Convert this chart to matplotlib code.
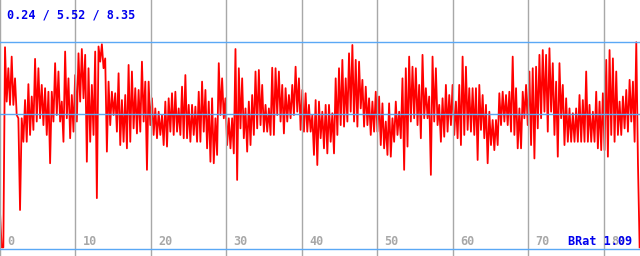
import numpy as np
import matplotlib
matplotlib.use("Agg")
import matplotlib.pyplot as plt
import matplotlib.transforms as mtransforms

# ---------------- data ----------------
stat_min, stat_mean, stat_max = 0.24, 5.52, 8.35
brat = 1.09
x_ticks = [0, 10, 20, 30, 40, 50, 60, 70, 80]
x_end = 84.77

start_vals = [1.64, 0.24, 0.24]
# high / low pairs, left to right
hi_lo = [
    # 0 .. 12
    (8.16, 6.01), (7.33, 5.88), (7.79, 5.88), (6.93, 5.48), (5.35, 1.72),
    (5.35, 4.42), (6.07, 4.42), (6.70, 4.69), (6.21, 4.89), (7.70, 5.22),
    (7.33, 5.35), (6.67, 5.08), (6.54, 4.69), (6.40, 3.57), (6.40, 5.22),
    (7.53, 5.48), (7.20, 5.22), (6.01, 4.42), (7.99, 5.35), (6.93, 4.56),
    (6.27, 4.82), (7.06, 5.22), (7.92, 6.01), (8.09, 6.14), (7.86, 3.63),
    (7.33, 4.42), (6.67, 4.69),
    # 12 .. 24
    (7.99, 2.19), (8.19, 7.59), (8.28, 7.33), (7.72, 4.03), (6.80, 5.08),
    (6.40, 5.48), (6.34, 4.82), (7.13, 4.29), (6.07, 4.42), (6.27, 4.16),
    (7.46, 4.42), (7.20, 4.95), (6.54, 4.75), (6.47, 4.82), (7.59, 5.22),
    (6.80, 3.31), (6.80, 5.08), (6.14, 4.69), (5.74, 4.56), (5.61, 4.69),
    (5.48, 4.29), (6.01, 4.23), (6.14, 4.82), (6.34, 4.69), (6.40, 4.82),
    (5.74, 4.69), (6.60, 4.56),
    # 24 .. 36
    (7.06, 4.56), (5.88, 4.42), (5.88, 4.69), (5.81, 4.42), (6.40, 4.42),
    (6.80, 4.82), (6.47, 4.16), (6.01, 3.63), (6.14, 3.57), (5.35, 3.90),
    (7.53, 5.48), (6.93, 5.35), (6.14, 4.29), (5.35, 4.16), (5.35, 3.96),
    (8.09, 2.91), (7.33, 4.95), (6.93, 4.56), (5.74, 4.03), (6.01, 4.29),
    (6.27, 4.69), (7.20, 4.95), (7.26, 5.08), (6.67, 4.82), (5.88, 4.82),
    (5.74, 4.69), (7.35, 4.69),
    # 36 .. 48
    (7.33, 5.48), (7.20, 5.22), (6.67, 4.75), (6.54, 5.22), (6.27, 5.35),
    (6.67, 5.48), (7.39, 5.61), (6.93, 4.89), (6.47, 4.82), (6.34, 4.82),
    (5.88, 4.82), (5.48, 3.90), (6.07, 3.50), (6.01, 4.56), (5.61, 4.16),
    (5.88, 3.96), (5.88, 4.42), (5.55, 3.96), (6.93, 4.69), (7.33, 5.08),
    (7.66, 5.02), (6.93, 5.22), (7.92, 5.61), (8.25, 5.22), (7.66, 5.02),
    (7.59, 5.74), (6.87, 5.02),
    # 48 .. 60
    (6.60, 5.08), (6.14, 4.69), (6.01, 4.82), (6.40, 4.82), (6.21, 4.29),
    (5.94, 4.16), (5.22, 3.90), (5.94, 3.83), (5.35, 4.42), (6.01, 4.69),
    (5.61, 4.56), (6.93, 3.31), (7.33, 4.23), (7.79, 5.22), (7.39, 5.35),
    (7.33, 5.08), (6.67, 4.56), (7.86, 5.35), (6.54, 5.35), (6.21, 3.11),
    (7.79, 5.22), (7.33, 5.08), (5.88, 4.42), (6.14, 4.62), (6.67, 4.82),
    (6.27, 5.08), (6.67, 4.69),
    # 60 .. 72
    (6.01, 4.56), (6.67, 4.29), (7.79, 4.69), (7.39, 4.89), (6.54, 4.82),
    (6.54, 4.69), (6.54, 3.70), (6.67, 4.89), (6.27, 4.56), (5.88, 3.57),
    (5.61, 4.29), (5.28, 4.09), (5.28, 4.29), (6.34, 5.08), (6.40, 5.22),
    (6.27, 5.08), (6.40, 4.82), (7.79, 4.69), (6.54, 4.16), (5.74, 4.16),
    (6.40, 5.35), (6.67, 5.08), (7.20, 4.29), (7.33, 3.76), (7.39, 4.95),
    (7.86, 5.35), (8.05, 5.61),
    # 72 .. 84.7
    (7.86, 4.82), (8.12, 5.61), (7.53, 4.69), (6.80, 3.83), (7.53, 5.35),
    (6.67, 4.29), (6.14, 4.42), (5.74, 4.42), (5.55, 4.42), (5.74, 4.42),
    (6.27, 4.42), (6.07, 4.42), (7.20, 4.42), (5.88, 4.42), (5.61, 4.42),
    (6.40, 4.16), (6.01, 4.09), (6.34, 4.09), (7.66, 3.83), (8.05, 4.69),
    (7.72, 4.42), (7.20, 4.69), (6.01, 4.69), (6.21, 4.95), (6.47, 4.82),
    (6.87, 5.22), (6.80, 4.42), (8.36, 3.57),
]
end_vals = [0.24]

values = start_vals + [v for pair in hi_lo for v in pair] + end_vals
xs = np.linspace(0, x_end - 0.05, len(values))

# ---------------- drawing ----------------
fig = plt.figure(figsize=(6.4, 2.56), dpi=100)
ax = fig.add_axes([0, 0, 1, 1])
ax.set_xlim(0, x_end)
ax.set_ylim(-0.10, 10.03)
ax.axis("off")

ax.plot(xs, values, color="#ff0000", lw=1.3, zorder=2)

grey = "#a8a8a8"
blue_line = "#5aa8f5"
for t in x_ticks:
    ax.axvline(t, color=grey, lw=1.0, zorder=3)
ax.axhline(stat_max, color=blue_line, lw=1.0, zorder=3)
ax.axhline(stat_mean, color=blue_line, lw=1.0, zorder=3)
ax.axhline(0.17, color=blue_line, lw=1.0, zorder=3)

mono = dict(family="DejaVu Sans Mono", fontweight="bold", fontsize=8.5)
trans = mtransforms.blended_transform_factory(ax.transData, ax.transAxes)
for t in x_ticks:
    ax.annotate(str(t), xy=(t, 0.043), xycoords=trans, xytext=(5, 0),
                textcoords="offset points", color=grey, va="baseline",
                ha="left", zorder=4, **mono)

ax.text(0.011, 0.926, "%.2f / %.2f / %.2f" % (stat_min, stat_mean, stat_max),
        transform=ax.transAxes, color="#0000ee", va="baseline", ha="left",
        zorder=5, **mono)
ax.text(0.9875, 0.043, "BRat %.2f" % brat, transform=ax.transAxes,
        color="#0000ee", va="baseline", ha="right", zorder=5, **mono)

fig.savefig("out.png", dpi=100)
